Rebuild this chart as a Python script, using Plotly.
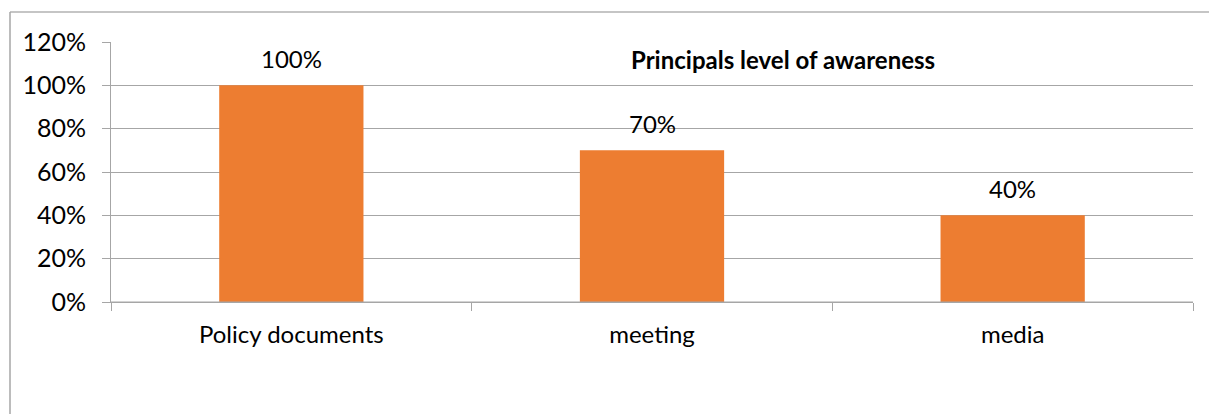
import plotly.graph_objects as go

categories = ["Policy documents", "meeting", "media"]
values = [1.00, 0.70, 0.40]
value_labels = ["100%", "70%", "40%"]
tick_vals = [0, 0.2, 0.4, 0.6, 0.8, 1.0, 1.2]
tick_text = ["0%", "20%", "40%", "60%", "80%", "100%", "120%"]
title_text = "Principals level of awareness"

# page has an 8px body margin; compensate so the figure fills the window
OFF = 8
W, H = 1217 - OFF, 414 - OFF
PX0, PX1 = 111, 1193   # plot area in page pixels
PY0, PY1 = 42, 302
L = PX0 - OFF
T = PY0 - OFF
pw = PX1 - PX0
ph = PY1 - PY0
R = W - L - pw
B = H - T - ph

def px_to_paper_x(px):
    return (px - PX0) / pw

def py_to_paper_y(py):
    return (PY1 - py) / ph

font_family = "Lato, 'Open Sans', sans-serif"
grid_col = "#a6a6a6"

fig = go.Figure()
fig.add_trace(go.Bar(
    x=categories, y=values,
    marker=dict(color="#ED7D31", line=dict(width=0)),
    width=0.4,
    hoverinfo="skip",
))

for c, v, t in zip(categories, values, value_labels):
    fig.add_annotation(x=c, y=v, text=t, showarrow=False, yshift=27,
                       font=dict(family=font_family, size=24, color="#000000"))

fig.add_annotation(xref="paper", yref="paper",
                   x=px_to_paper_x(783), y=py_to_paper_y(60),
                   text="<b>" + title_text + "</b>", showarrow=False,
                   xanchor="center", yanchor="middle",
                   font=dict(family=font_family, size=24, color="#000000"))

# outer chart border (top and left visible)
fig.add_shape(type="line", xref="paper", yref="paper",
              x0=px_to_paper_x(10), x1=px_to_paper_x(1230),
              y0=py_to_paper_y(12), y1=py_to_paper_y(12),
              line=dict(color="#8c8c8c", width=1.2))
fig.add_shape(type="line", xref="paper", yref="paper",
              x0=px_to_paper_x(10), x1=px_to_paper_x(10),
              y0=py_to_paper_y(12), y1=py_to_paper_y(430),
              line=dict(color=grid_col, width=1.5))

fig.update_layout(
    width=W, height=H,
    margin=dict(l=L, r=R, t=T, b=B, pad=0),
    plot_bgcolor="white", paper_bgcolor="white",
    showlegend=False,
    font=dict(family=font_family, size=24, color="#000000"),
    xaxis=dict(
        showgrid=False, showline=False,
        ticks="", tickfont=dict(size=24),
        ticklabelstandoff=16,
    ),
    yaxis=dict(
        range=[0, 1.2], tickvals=tick_vals, ticktext=tick_text,
        showgrid=True, gridcolor=grid_col, gridwidth=1,
        showline=True, linecolor=grid_col, linewidth=1,
        ticks="outside", ticklen=8, tickcolor=grid_col,
        tickfont=dict(size=25), zeroline=False,
        ticklabelstandoff=11,
    ),
    xaxis2=dict(
        overlaying="x", range=[0, 3], side="bottom",
        tickvals=[0, 1, 2, 3], showticklabels=False,
        ticks="outside", ticklen=8, tickcolor=grid_col,
        showline=True, linecolor=grid_col, linewidth=1,
        showgrid=False, zeroline=False,
    ),
)
fig.add_trace(go.Scatter(x=[0, 3], y=[0, 0], xaxis="x2", mode="lines",
                         line=dict(color=grid_col, width=1), hoverinfo="skip"))

fig.write_html("out.html")
